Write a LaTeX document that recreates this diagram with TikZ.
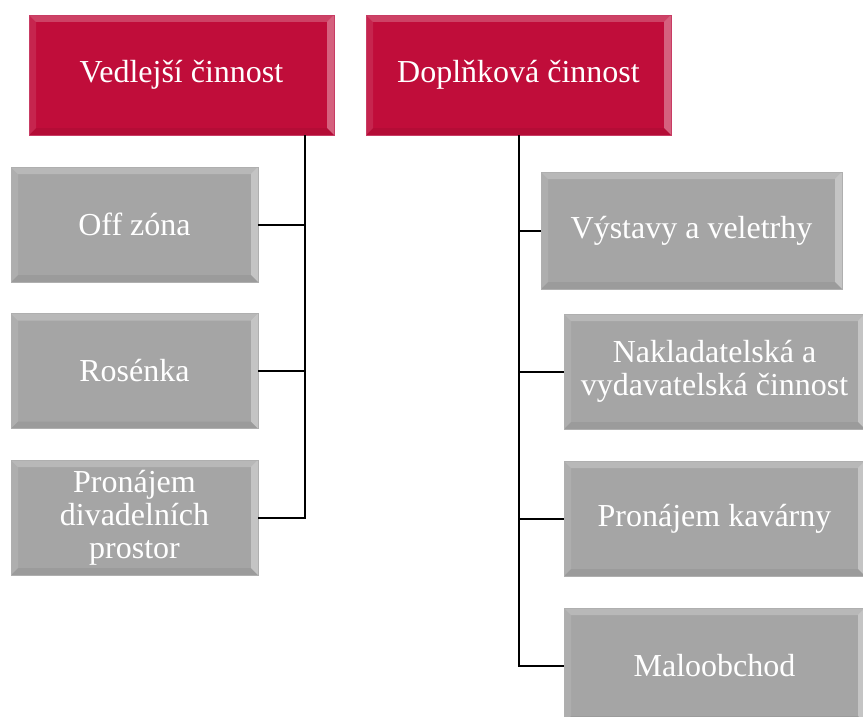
\documentclass[tikz,border=0pt]{standalone}
\usepackage{fontspec}
\setmainfont{Liberation Serif}
\begin{document}
\begin{tikzpicture}[x=1pt,y=-1pt,
  bevel/.style={path picture={
    \fill[white,opacity=0.22] (path picture bounding box.north west) -- (path picture bounding box.north east) -- ([shift={(-7pt,-7pt)}]path picture bounding box.north east) -- ([shift={(7pt,-7pt)}]path picture bounding box.north west) -- cycle;
    \fill[white,opacity=0.10] (path picture bounding box.north west) -- ([shift={(7pt,-7pt)}]path picture bounding box.north west) -- ([shift={(7pt,7pt)}]path picture bounding box.south west) -- (path picture bounding box.south west) -- cycle;
    \fill[white,opacity=0.35] (path picture bounding box.north east) -- ([shift={(-7pt,-7pt)}]path picture bounding box.north east) -- ([shift={(-7pt,7pt)}]path picture bounding box.south east) -- (path picture bounding box.south east) -- cycle;
    \fill[black,opacity=0.06] (path picture bounding box.south west) -- ([shift={(7pt,7pt)}]path picture bounding box.south west) -- ([shift={(-7pt,7pt)}]path picture bounding box.south east) -- (path picture bounding box.south east) -- cycle;
  }},
  box/.style={rectangle, bevel, inner sep=0pt, text=white, align=center,
    font=\fontsize{32}{33}\selectfont},
  redbox/.style={box, fill={rgb,255:red,192;green,13;blue,58}, draw={rgb,255:red,200;green,60;blue,100}, line width=0.6pt, minimum width=305pt, minimum height=120pt},
  graybox/.style={box, fill={rgb,255:red,165;green,165;blue,165}, draw={rgb,255:red,175;green,175;blue,175}, line width=0.6pt, minimum height=115pt},
  conn/.style={draw=black, line width=2pt}]
\useasboundingbox (0,0) rectangle (863,717);
\clip (0,0) rectangle (863,717);

\node[redbox] (ved) at (181.5,75) {Vedlejší činnost};
\node[redbox] (dop) at (518.5,75) {Doplňková činnost};

\node[graybox, minimum width=247pt] (off) at (134.5,224.5) {Off zóna};
\node[graybox, minimum width=247pt] (ros) at (134.5,371) {Rosénka};
\node[graybox, minimum width=247pt] (pro) at (134.5,517.5) {Pronájem\\divadelních\\prostor};

\node[graybox, minimum width=301pt, minimum height=117pt] (vys) at (691.5,230.5) {Výstavy a veletrhy};
\node[graybox, minimum width=301pt] (nak) at (714.5,371.5) {Nakladatelská a\\vydavatelská činnost};
\node[graybox, minimum width=301pt] (kav) at (714.5,518.5) {Pronájem kavárny};
\node[graybox, minimum width=301pt] (mal) at (714.5,665.5) {Maloobchod};

\coordinate (tl) at (305,0);
\coordinate (tr) at (519,0);

\draw[conn] (ved.south -| tl) |- (off.east);
\draw[conn] (ved.south -| tl) |- (ros.east);
\draw[conn] (ved.south -| tl) |- (pro.east);

\draw[conn] (dop.south -| tr) |- (vys.west);
\draw[conn] (dop.south -| tr) |- (nak.west);
\draw[conn] (dop.south -| tr) |- (kav.west);
\draw[conn] (dop.south -| tr) |- (mal.west);
\end{tikzpicture}
\end{document}
